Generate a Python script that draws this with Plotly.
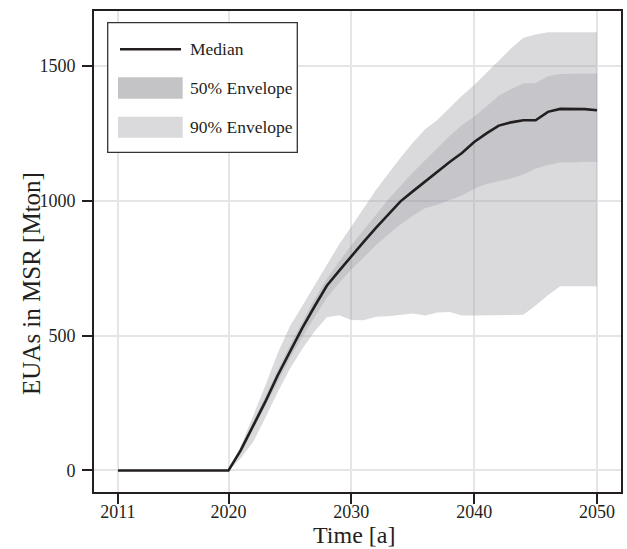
import plotly.graph_objects as go

# Simulated EUAs held in the Market Stability Reserve (Mton), 2011-2050
years = list(range(2011, 2051))

median = [0, 0, 0, 0, 0, 0, 0, 0, 0, 0,
          75, 165, 255, 352, 443, 528, 608, 685, 740, 795,
          848, 900, 951, 998, 1035, 1072, 1106, 1144, 1177, 1218,
          1250, 1279, 1291, 1299, 1299, 1330, 1341, 1341, 1340, 1336]

env50_low = [0, 0, 0, 0, 0, 0, 0, 0, 0, 0,
             62, 150, 240, 330, 415, 495, 570, 640, 695, 745,
             790, 835, 875, 912, 945, 972, 985, 1003, 1020, 1045,
             1062, 1073, 1083, 1098, 1120, 1133, 1142, 1142, 1145, 1144]

env50_high = [0, 0, 0, 0, 0, 0, 0, 0, 0, 0,
              82, 180, 275, 372, 465, 552, 635, 710, 775, 835,
              893, 950, 1005, 1055, 1105, 1150, 1195, 1240, 1280, 1313,
              1350, 1390, 1415, 1435, 1437, 1462, 1470, 1472, 1472, 1472]

env90_low = [0, 0, 0, 0, 0, 0, 0, 0, 0, 0,
             45, 105, 195, 290, 377, 450, 515, 568, 576, 558,
             557, 570, 572, 576, 582, 575, 586, 588, 575, 575,
             575, 575, 575, 577, 612, 650, 683, 683, 683, 683]

env90_high = [0, 0, 0, 0, 0, 0, 0, 0, 0, 0,
              90, 200, 315, 435, 535, 610, 685, 760, 838, 905,
              972, 1040, 1100, 1160, 1215, 1265, 1300, 1345, 1390, 1430,
              1475, 1520, 1565, 1605, 1617, 1625, 1625, 1625, 1625, 1625]

x_ticks = [2011, 2020, 2030, 2040, 2050]
y_ticks = [0, 500, 1000, 1500]
legend_labels = ["Median", "50% Envelope", "90% Envelope"]
x_title = "Time [a]"
y_title = "EUAs in MSR [Mton]"

INK = "#231f20"
FILL90 = "rgba(150,150,158,0.35)"
FILL50 = "rgba(120,120,128,0.20)"
FONT = "Liberation Serif, Times New Roman, serif"

fig = go.Figure()

# 90% envelope
fig.add_trace(go.Scatter(x=years, y=env90_low, mode="lines",
                         line=dict(width=0), hoverinfo="skip", showlegend=False))
fig.add_trace(go.Scatter(x=years, y=env90_high, mode="lines", fill="tonexty",
                         fillcolor=FILL90, line=dict(width=0),
                         hoverinfo="skip", showlegend=False))
# 50% envelope
fig.add_trace(go.Scatter(x=years, y=env50_low, mode="lines",
                         line=dict(width=0), hoverinfo="skip", showlegend=False))
fig.add_trace(go.Scatter(x=years, y=env50_high, mode="lines", fill="tonexty",
                         fillcolor=FILL50, line=dict(width=0),
                         hoverinfo="skip", showlegend=False))
# median path
fig.add_trace(go.Scatter(x=years, y=median, mode="lines",
                         line=dict(color=INK, width=2.6), showlegend=False))

# plot-area geometry (pixels) used to place the hand-drawn key and titles
W, H = 627, 549
ML, MR, MT, MB = 94, 6, 11, 57
PW, PH = W - ML - MR, H - MT - MB


def px(x):
    return (x - ML) / PW


def py(y):
    return (H - MB - y) / PH


shapes = [
    dict(type="rect", xref="paper", yref="paper",
         x0=px(107.7), x1=px(297.3), y0=py(152.3), y1=py(22.7),
         line=dict(color="#333333", width=1.3), fillcolor="white", layer="above"),
    dict(type="line", xref="paper", yref="paper",
         x0=px(120), x1=px(181), y0=py(49.3), y1=py(49.3),
         line=dict(color=INK, width=2.6), layer="above"),
    dict(type="rect", xref="paper", yref="paper",
         x0=px(118), x1=px(182.7), y0=py(98.7), y1=py(77.3),
         line=dict(width=0), fillcolor="#c4c4c7", layer="above"),
    dict(type="rect", xref="paper", yref="paper",
         x0=px(118), x1=px(182.7), y0=py(137.7), y1=py(116.7),
         line=dict(width=0), fillcolor="#dadadd", layer="above"),
]

annotations = []
for label, ypix in zip(legend_labels, [49, 88, 127]):
    annotations.append(dict(xref="paper", yref="paper", x=px(188.3), y=py(ypix),
                            text=label, showarrow=False, xanchor="left",
                            yanchor="middle",
                            font=dict(family=FONT, size=17.5, color=INK)))

# axis titles
annotations.append(dict(xref="paper", yref="paper", x=px(354), y=py(535),
                        text=x_title, showarrow=False, xanchor="center",
                        yanchor="middle", font=dict(family=FONT, size=24, color=INK)))
annotations.append(dict(xref="paper", yref="paper", x=px(31), y=py(284),
                        text=y_title, showarrow=False, textangle=-90,
                        xanchor="center", yanchor="middle",
                        font=dict(family=FONT, size=25, color=INK)))

fig.update_layout(
    width=W, height=H,
    margin=dict(l=ML, r=MR, t=MT, b=MB, autoexpand=False),
    paper_bgcolor="white", plot_bgcolor="white",
    font=dict(family=FONT, color=INK),
    shapes=shapes, annotations=annotations,
    showlegend=False,
)

axis_common = dict(
    showgrid=True, gridcolor="#e5e5e8", gridwidth=1.6,
    showline=True, linecolor=INK, linewidth=1.6, mirror=True,
    ticks="outside", ticklen=10, tickwidth=2.2, tickcolor=INK,
    zeroline=False, automargin=False,
    tickfont=dict(family=FONT, size=18, color=INK),
)

fig.update_xaxes(range=[2009.05, 2051.95], tickvals=x_ticks,
                 ticktext=[str(v) for v in x_ticks],
                 ticklabelstandoff=-7, **axis_common)
fig.update_yaxes(range=[-80, 1704], tickvals=y_ticks,
                 ticktext=[str(v) for v in y_ticks],
                 ticklabelstandoff=3, **axis_common)

fig.write_html("out.html")
